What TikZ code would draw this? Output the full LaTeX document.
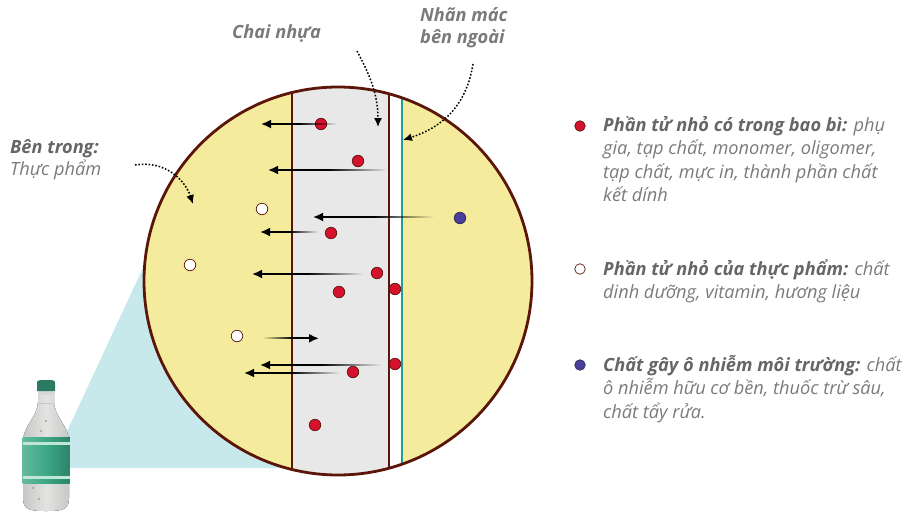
\documentclass[tikz,border=0pt]{standalone}
\usepackage{fontspec}
\setmainfont{Open Sans}
\usetikzlibrary{arrows.meta,fadings}

\definecolor{foodyellow}{HTML}{F4EC9C}
\definecolor{wallgray}{HTML}{E8E8E8}
\definecolor{wallbrown}{HTML}{5B1509}
\definecolor{labelteal}{HTML}{1E9E96}
\definecolor{dotred}{HTML}{D6112E}
\definecolor{dotblue}{HTML}{4A3F9B}
\definecolor{skyblue}{HTML}{C8E9EC}
\definecolor{textgray}{HTML}{7A7A7A}
\definecolor{headgray}{HTML}{666666}
\definecolor{glass}{HTML}{E3E4E1}
\definecolor{glassdark}{HTML}{C6C8C5}
\definecolor{capgreen}{HTML}{2B7A63}
\definecolor{bandgreen}{HTML}{3DA886}
\definecolor{banddark}{HTML}{2C8467}
\definecolor{bandlight}{HTML}{BFE6D6}

\tikzfading[name=tailfade, left color=transparent!0, right color=transparent!100]
\tikzfading[name=tailfadeback, left color=transparent!100, right color=transparent!0]

\tikzset{
  flow/.style={line width=1.8pt, -{Latex[length=10pt,width=9pt]}},
  callout/.style={line width=1.5pt, dash pattern=on 1.6pt off 1.8pt, -{Latex[length=9pt,width=8pt]}},
  particle/.style={circle, minimum size=11.5pt, inner sep=0pt, line width=0.7pt},
  pkgdot/.style={particle, fill=dotred, draw=wallbrown},
  fooddot/.style={particle, fill=white, draw=wallbrown},
  envdot/.style={particle, fill=dotblue, draw=dotblue!60!black},
  % base anchor sits on the last line
  tag/.style={font=\fontsize{18.2}{23.4}\selectfont\itshape, text=textgray, align=left, inner sep=0pt, anchor=base west},
  boldtag/.style={tag, font=\fontsize{18.2}{22}\selectfont\bfseries\itshape},
}

\begin{document}
\begin{tikzpicture}[x=1pt, y=-1pt]
  \useasboundingbox (0,0) rectangle (903,512);

  % zoom cone from the bottle
  \fill[skyblue] (50,468) -- (148,257) -- (338,281) -- (290,468) -- cycle;

  % the magnified wall
  \begin{scope}
    \clip (338,281) circle (194);
    \fill[foodyellow] (140,80) rectangle (540,480);
    \fill[wallgray] (292,80) rectangle (389,480);
    \fill[white] (389,80) rectangle (402,480);
    \draw[wallbrown, line width=2.8pt] (292,80) -- (292,480) (389,80) -- (389,480);
    \draw[labelteal, line width=2.6pt] (402,80) -- (402,480);
  \end{scope}
  \draw[wallbrown, line width=2.8pt] (338,281) circle (194);

  % particles
  \foreach \x/\y [count=\i] in {321/124, 358/161, 331/233, 377/273, 339/292,
                                395/289, 395/364, 353/372, 315/425}
    \node[pkgdot] (p\i) at (\x,\y) {};
  \foreach \x/\y [count=\i] in {262/209, 190/265, 237/336}
    \node[fooddot] (f\i) at (\x,\y) {};
  \node[envdot] (e1) at (460,218) {};

  % migration arrows, fading towards their source
  \foreach \y/\xh/\xt in {124/261/337, 170/268/387, 217/313/434, 232/260/318,
                          274/252/363, 365/260/381, 373/244/340} {
    \fill[black, path fading=tailfade] ({\xh+0.5*(\xt-\xh)},\y-0.9) rectangle (\xt,\y+0.9);
    \draw[flow] ({\xh+0.5*(\xt-\xh)+1},\y) -- (\xh,\y);
  }
  \fill[black, path fading=tailfadeback] (262,337.4) rectangle (292,339.2);
  \draw[flow] (291,338.3) -- (319,338.3);

  % bottle
  \fill[left color=glassdark, right color=glassdark, middle color=glass]
    (38,392) -- (38,402) .. controls (37,418) and (24,425) .. (23,440) -- (23,498)
    .. controls (23,510) and (30,511) .. (46,511) .. controls (62,511) and (69,510) .. (69,498)
    -- (69,440) .. controls (68,425) and (55,418) .. (54,402) -- (54,392) -- cycle;
  \fill[glassdark!70!white] (38,390) rectangle (54,395);
  \draw[glassdark, line width=0.8pt] (38,403) -- (54,403);
  \fill[left color=bandgreen!80!white, right color=banddark, middle color=bandgreen]
    (22.5,437) rectangle (69.5,483);
  \fill[bandlight] (22.5,442) rectangle (69.5,444.5);
  \fill[bandlight] (22.5,476) rectangle (69.5,478.5);
  \fill[capgreen] (37,391) -- (37,383) .. controls (37,380) and (39,380) .. (46,380)
    .. controls (53,380) and (55,380) .. (55,383) -- (55,391) -- cycle;
  \foreach \x/\y in {46/421, 41/431, 33/488, 39/499}
    \fill[glassdark!80!black] (\x,\y) circle (1.2);

  % callouts
  \node[boldtag] (chai) at (232,38) {Chai nhựa};
  \node[boldtag] (nhan) at (420,43.5) {Nhãn mác\\bên ngoài};
  \node[tag, font=\fontsize{18.2}{22}\selectfont\itshape] (ben) at (10,175) {\textcolor{headgray}{\bfseries Bên trong:}\\Thực phẩm};
  \coordinate (chaiTail) at (357,51);
  \coordinate (chaiHead) at (378,127);
  \coordinate (nhanTail) at (473,64);
  \coordinate (nhanHead) at (403,140);
  \coordinate (benTail) at (135,165);
  \coordinate (benHead) at (193,204);
  \draw[callout] (chaiTail) .. controls (368,72) and (378,92) .. (chaiHead);
  \draw[callout] (nhanTail) .. controls (466,108) and (440,128) .. (nhanHead);
  \draw[callout] (benTail) .. controls (165,160) and (185,180) .. (benHead);

  % legend
  \node[pkgdot, minimum size=10.5pt] (k1) at (580,126) {};
  \node[fooddot, minimum size=10.5pt] (k2) at (580,269) {};
  \node[envdot, minimum size=10.5pt] (k3) at (580,365) {};
  \node[tag] (t1) at (603,201.7) {\textcolor{headgray}{\bfseries Phần tử nhỏ có trong bao bì:} phụ\\gia, tạp chất, monomer, oligomer,\\tạp chất, mực in, thành phần chất\\kết dính};
  \node[tag] (t2) at (603,298.4) {\textcolor{headgray}{\bfseries Phần tử nhỏ của thực phẩm:} chất\\dinh dưỡng, vitamin, hương liệu};
  \node[tag] (t3) at (603,418.3) {\textcolor{headgray}{\bfseries Chất gây ô nhiễm môi trường:} chất\\ô nhiễm hữu cơ bền, thuốc trừ sâu,\\chất tẩy rửa.};
\end{tikzpicture}
\end{document}
